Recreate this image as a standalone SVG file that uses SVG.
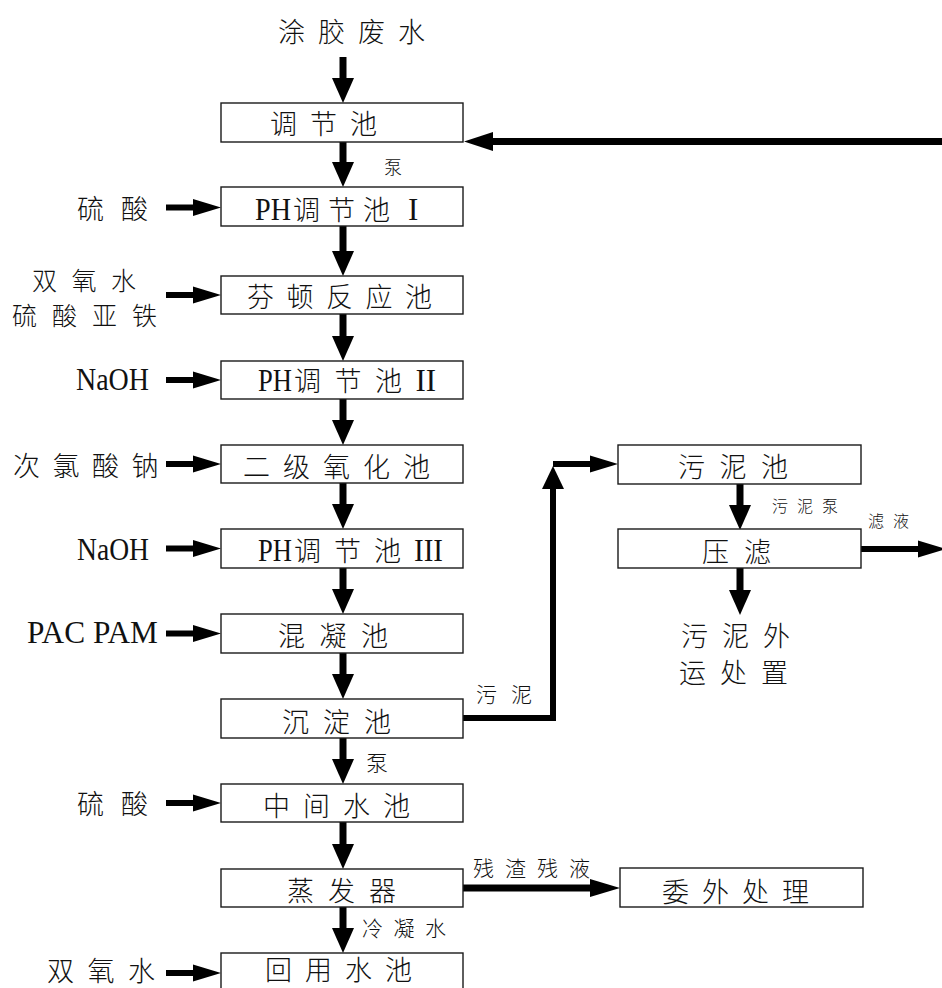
<svg xmlns="http://www.w3.org/2000/svg" width="942" height="988" viewBox="0 0 942 988">
<style>
.box{fill:#fff;stroke:#1a1a1a;stroke-width:1.4}
.c{font-family:"Noto Sans CJK SC","Noto Sans CJK JP",sans-serif;font-weight:300;font-size:27px;fill:#111}
.m{font-size:25px}
.s{font-size:21px}
.xs{font-size:16px}
.l{font-family:"Liberation Serif",serif;font-size:31px;fill:#111;font-weight:normal;letter-spacing:0}
.sh{stroke:#000;stroke-width:7;fill:none;stroke-linecap:butt}
.sh6{stroke:#000;stroke-width:6;fill:none;stroke-linecap:butt;stroke-linejoin:miter}
.hd{fill:#000}
</style>
<defs>
<marker id="hv" markerUnits="userSpaceOnUse" markerWidth="26" markerHeight="23" viewBox="0 0 26 23" refX="0" refY="11" orient="auto" overflow="visible"><path class="hd" d="M0,0 L25,11 L0,22 z"/></marker>
<marker id="hh" markerUnits="userSpaceOnUse" markerWidth="29" markerHeight="18" viewBox="0 0 29 18" refX="0" refY="8.5" orient="auto" overflow="visible"><path class="hd" d="M0,0 L28,8.5 L0,17 z"/></marker>
</defs>
<rect width="942" height="988" fill="#fff"/>

<g id="connectors">
  <line class="sh" x1="343" y1="57" x2="343" y2="78" marker-end="url(#hv)"/>
  <line class="sh" x1="343" y1="142" x2="343" y2="162" marker-end="url(#hv)"/>
  <line class="sh" x1="343" y1="226" x2="343" y2="251" marker-end="url(#hv)"/>
  <line class="sh" x1="343" y1="314" x2="343" y2="336" marker-end="url(#hv)"/>
  <line class="sh" x1="343" y1="399" x2="343" y2="420" marker-end="url(#hv)"/>
  <line class="sh" x1="343" y1="483" x2="343" y2="504" marker-end="url(#hv)"/>
  <line class="sh" x1="343" y1="568" x2="343" y2="589" marker-end="url(#hv)"/>
  <line class="sh" x1="343" y1="653" x2="343" y2="674" marker-end="url(#hv)"/>
  <line class="sh" x1="343" y1="738" x2="343" y2="759" marker-end="url(#hv)"/>
  <line class="sh" x1="343" y1="822" x2="343" y2="844" marker-end="url(#hv)"/>
  <line class="sh" x1="343" y1="907" x2="343" y2="928" marker-end="url(#hv)"/>
  <line class="sh6" x1="166" y1="207.5" x2="193" y2="207.5" marker-end="url(#hh)"/>
  <line class="sh6" x1="166" y1="295" x2="193" y2="295" marker-end="url(#hh)"/>
  <line class="sh6" x1="166" y1="380" x2="193" y2="380" marker-end="url(#hh)"/>
  <line class="sh6" x1="166" y1="464" x2="193" y2="464" marker-end="url(#hh)"/>
  <line class="sh6" x1="166" y1="548.5" x2="193" y2="548.5" marker-end="url(#hh)"/>
  <line class="sh6" x1="166" y1="633.5" x2="193" y2="633.5" marker-end="url(#hh)"/>
  <line class="sh6" x1="166" y1="803" x2="193" y2="803" marker-end="url(#hh)"/>
  <line class="sh6" x1="166" y1="973" x2="193" y2="973" marker-end="url(#hh)"/>
  <line class="sh" x1="942" y1="141.5" x2="493" y2="141.5"/>
  <path class="hd" d="M464,141.5 L493,132 L493,151 z"/>
  <polyline class="sh6" points="463,718 553,718 553,489"/>
  <path class="hd" d="M553,466 L542,489 L564,489 z"/>
  <line class="sh6" x1="553" y1="464" x2="590" y2="464" marker-end="url(#hh)"/>
  <line class="sh" x1="740" y1="484" x2="740" y2="505" marker-end="url(#hv)"/>
  <line class="sh" x1="740" y1="568" x2="740" y2="590" marker-end="url(#hv)"/>
  <line class="sh6" x1="861" y1="549" x2="918" y2="549" marker-end="url(#hh)"/>
  <line class="sh" x1="463" y1="888" x2="590" y2="888"/>
  <path class="hd" d="M620,888 L590,879 L590,897 z"/>
  <text class="c" x="384" y="174" style="font-size:18px">泵</text>
  <text class="c" x="366" y="771" style="font-size:22px">泵</text>
  <text class="c s" x="362" y="936" style="letter-spacing:10.5px">冷凝水</text>
  <text class="c s" x="476" y="702" style="letter-spacing:14px">污泥</text>
  <text class="c xs" x="772" y="512" style="letter-spacing:9px">污泥泵</text>
  <text class="c xs" x="868" y="527" style="letter-spacing:9px">滤液</text>
  <text class="c s" x="473" y="876" style="letter-spacing:11px">残渣残液</text>
</g>

<g id="n-input"><text class="c" x="278" y="42" style="letter-spacing:13px">涂胶废水</text></g>
<g id="n-tjc"><rect class="box" x="221" y="103" width="242" height="39"/><text class="c" x="270" y="134" style="letter-spacing:13px">调节池</text></g>
<g id="n-ph1"><rect class="box" x="221" y="187" width="242" height="39"/><text class="c" x="255" y="220"><tspan class="l" textLength="36" lengthAdjust="spacingAndGlyphs">PH</tspan><tspan x="293" style="letter-spacing:8px">调节池</tspan><tspan class="l" dx="10">I</tspan></text></g>
<g id="n-fenton"><rect class="box" x="221" y="276" width="242" height="38"/><text class="c" x="247" y="307" style="letter-spacing:12.5px">芬顿反应池</text></g>
<g id="n-ph2"><rect class="box" x="221" y="361" width="242" height="38"/><text class="c" x="258" y="391"><tspan class="l" textLength="34" lengthAdjust="spacingAndGlyphs">PH</tspan><tspan x="294" style="letter-spacing:13.5px">调节池</tspan><tspan class="l">II</tspan></text></g>
<g id="n-oxid"><rect class="box" x="221" y="445" width="242" height="38"/><text class="c" x="243" y="477" style="letter-spacing:13px">二级氧化池</text></g>
<g id="n-ph3"><rect class="box" x="221" y="529" width="242" height="39"/><text class="c" x="258" y="561"><tspan class="l" textLength="34" lengthAdjust="spacingAndGlyphs">PH</tspan><tspan x="294" style="letter-spacing:13px">调节池</tspan><tspan class="l" textLength="29" lengthAdjust="spacingAndGlyphs">III</tspan></text></g>
<g id="n-coag"><rect class="box" x="221" y="614" width="242" height="39"/><text class="c" x="278" y="646" style="letter-spacing:14.5px">混凝池</text></g>
<g id="n-sed"><rect class="box" x="221" y="699" width="242" height="39"/><text class="c" x="282" y="732" style="letter-spacing:14px">沉淀池</text></g>
<g id="n-mid"><rect class="box" x="221" y="784" width="242" height="38"/><text class="c" x="263" y="816" style="letter-spacing:13px">中间水池</text></g>
<g id="n-evap"><rect class="box" x="221" y="869" width="242" height="38"/><text class="c" x="287" y="901" style="letter-spacing:14px">蒸发器</text></g>
<g id="n-reuse"><rect class="box" x="221" y="953" width="242" height="45"/><text class="c" x="265" y="980" style="letter-spacing:13px">回用水池</text></g>
<g id="n-sludge"><rect class="box" x="618" y="445" width="243" height="39"/><text class="c" x="678" y="477" style="letter-spacing:14.5px">污泥池</text></g>
<g id="n-press"><rect class="box" x="618" y="529" width="243" height="39"/><text class="c" x="702" y="562" style="letter-spacing:15px">压滤</text></g>
<g id="n-disposal"><text class="c" x="681" y="646" style="letter-spacing:14px">污泥外</text><text class="c" x="679" y="683" style="letter-spacing:14px">运处置</text></g>
<g id="n-outsource"><rect class="box" x="620" y="868" width="243" height="39"/><text class="c" x="662" y="902" style="letter-spacing:13px">委外处理</text></g>

<g id="in-h2so4-1"><text class="c" x="77" y="219" style="letter-spacing:17px">硫酸</text></g>
<g id="in-fenton"><text class="c m" x="32" y="290" style="letter-spacing:14.5px">双氧水</text><text class="c m" x="12" y="325" style="letter-spacing:15px">硫酸亚铁</text></g>
<g id="in-naoh-1"><text class="l" x="76" y="390" textLength="73" lengthAdjust="spacingAndGlyphs">NaOH</text></g>
<g id="in-naclo"><text class="c" x="13" y="476" style="letter-spacing:12.5px">次氯酸钠</text></g>
<g id="in-naoh-2"><text class="l" x="77" y="560" textLength="72" lengthAdjust="spacingAndGlyphs">NaOH</text></g>
<g id="in-pac"><text class="l" x="27" y="643" textLength="131" lengthAdjust="spacingAndGlyphs">PAC PAM</text></g>
<g id="in-h2so4-2"><text class="c" x="77" y="814" style="letter-spacing:17px">硫酸</text></g>
<g id="in-h2o2"><text class="c" x="47" y="981" style="letter-spacing:13.5px">双氧水</text></g>
</svg>
